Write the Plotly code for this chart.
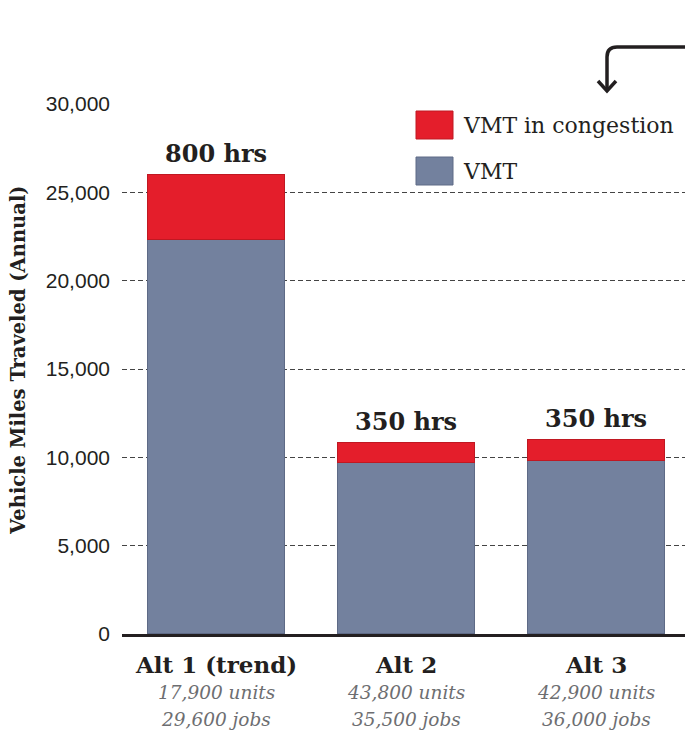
import plotly.graph_objects as go

# ---- data ----
categories = ["Alt 1 (trend)", "Alt 2", "Alt 3"]
vmt = [22300, 9700, 9800]
vmt_congestion = [3700, 1100, 1200]
hours_labels = ["800 hrs", "350 hrs", "350 hrs"]
units_labels = ["17,900 units", "43,800 units", "42,900 units"]
jobs_labels = ["29,600 jobs", "35,500 jobs", "36,000 jobs"]
y_ticks = [0, 5000, 10000, 15000, 20000, 25000, 30000]

RED = "#E41E2B"
GRAY = "#73819E"
SERIF = "DejaVu Serif"
SANS = "Liberation Sans, Arial, sans-serif"

# plot area in pixels
W_PX, H_PX = 685, 730
L, R, T, B = 122, 685, 104, 634


def px(xp):
    return (xp - L) / (R - L)


def py(yp):
    return (B - yp) / (B - T)


fig = go.Figure()
fig.add_trace(go.Bar(
    x=categories, y=vmt, name="VMT", width=0.72,
    marker=dict(color=GRAY, line=dict(color="#5E6A86", width=1)),
    showlegend=False,
))
fig.add_trace(go.Bar(
    x=categories, y=vmt_congestion, name="VMT in congestion", width=0.72,
    marker=dict(color=RED, line=dict(color="#C01822", width=1)),
    showlegend=False,
))

annotations = []
totals = [a + b for a, b in zip(vmt, vmt_congestion)]
for c, tot, lab in zip(categories, totals, hours_labels):
    annotations.append(dict(
        x=c, y=tot, xref="x", yref="y", text=f"<b>{lab}</b>", showarrow=False,
        yanchor="bottom", yshift=5,
        font=dict(family=SERIF, size=24, color="#231F20"),
    ))
for c, u, j in zip(categories, units_labels, jobs_labels):
    annotations.append(dict(
        x=c, y=0, xref="x", yref="paper", text=f"<b>{c}</b>", showarrow=False,
        yanchor="middle", yshift=-30,
        font=dict(family=SERIF, size=23, color="#231F20"),
    ))
    annotations.append(dict(
        x=c, y=0, xref="x", yref="paper", text=f"<i>{u}</i>", showarrow=False,
        yanchor="middle", yshift=-58,
        font=dict(family=SERIF, size=18.5, color="#6D6E71"),
    ))
    annotations.append(dict(
        x=c, y=0, xref="x", yref="paper", text=f"<i>{j}</i>", showarrow=False,
        yanchor="middle", yshift=-85,
        font=dict(family=SERIF, size=18.5, color="#6D6E71"),
    ))

# axis title
annotations.append(dict(
    x=px(18), y=py(360), xref="paper", yref="paper", xanchor="center", yanchor="middle",
    text="<b>Vehicle Miles Traveled (Annual)</b>", textangle=-90, showarrow=False,
    font=dict(family=SERIF, size=19.5, color="#231F20"),
))

# legend (manual)
shapes = []
legend_items = [("VMT in congestion", RED, "#C01822", 111), ("VMT", GRAY, "#5E6A86", 157)]
for name, col, lc, ytop in legend_items:
    shapes.append(dict(type="rect", xref="paper", yref="paper",
                       x0=px(416), x1=px(453), y0=py(ytop + 28), y1=py(ytop),
                       fillcolor=col, line=dict(color=lc, width=1)))
    annotations.append(dict(
        x=px(461), y=py(ytop + 14), xref="paper", yref="paper", xanchor="left", yanchor="middle",
        text=name, showarrow=False, font=dict(family=SERIF, size=22, color="#231F20"),
    ))

# arrow decoration top-right
path = (f"M {px(690)},{py(47)} L {px(617)},{py(47)} "
        f"Q {px(607)},{py(47)} {px(607)},{py(57)} L {px(607)},{py(90)}")
shapes.append(dict(type="path", xref="paper", yref="paper", path=path,
                   line=dict(color="#231F20", width=3.5)))
head = (f"M {px(598)},{py(81)} L {px(607)},{py(91)} L {px(616)},{py(81)}")
shapes.append(dict(type="path", xref="paper", yref="paper", path=head,
                   line=dict(color="#231F20", width=3.5)))

fig.update_layout(
    barmode="stack",
    width=W_PX, height=H_PX,
    margin=dict(l=L, r=W_PX - R, t=T, b=H_PX - B, pad=0),
    paper_bgcolor="white", plot_bgcolor="white",
    showlegend=False,
    annotations=annotations,
    shapes=shapes,
    bargap=0,
)
fig.update_xaxes(
    range=[-0.497, 2.466], showticklabels=False, ticks="",
    showgrid=False, showline=True, linecolor="#231F20", linewidth=3,
    zeroline=False,
)
fig.update_yaxes(
    range=[0, 30000], tickvals=y_ticks, tickformat=",",
    showgrid=True, gridcolor="#444444", gridwidth=1, griddash="5px,3px",
    zeroline=False, showline=False, ticks="", ticklabelstandoff=11,
    tickfont=dict(family=SANS, size=21, color="#231F20"),
)

fig.write_html("out.html", config={"displayModeBar": False},
               post_script="document.body.style.margin='0';")
